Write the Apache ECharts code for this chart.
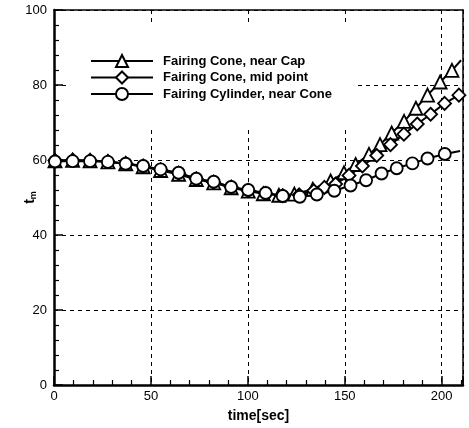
<!DOCTYPE html>
<html>
<head>
<meta charset="utf-8">
<script src="https://cdn.jsdelivr.net/npm/echarts@6/dist/echarts.min.js"></script>
<style>
html,body{margin:0;padding:0;background:#fff;}
#chart{width:469px;height:428px;}
</style>
</head>
<body>
<div id="chart"></div>
<script>
// ---- data ----
const seriesNames = ['Fairing Cone, near Cap', 'Fairing Cone, mid point', 'Fairing Cylinder, near Cone'];

const coneCapTime = [0.5, 9.6, 18.6, 27.8, 37, 46, 55, 64.3, 73.4, 82.4, 91.4, 100.2, 108, 116, 124, 133.5, 142.7, 149.6, 155.6, 162.5, 168.2, 174.2, 180.6, 186.7, 192.7, 199.2, 205.3, 210];
const coneCapTemp = [59.8, 59.9, 59.8, 59.5, 59.0, 58.2, 57.2, 56.2, 54.8, 53.9, 52.6, 51.7, 51.0, 50.6, 50.9, 52.2, 54.4, 56.6, 58.8, 61.5, 64.1, 67.2, 70.3, 73.8, 77.3, 80.8, 83.9, 86.6];

const coneMidTime = [0.5, 9.6, 18.6, 27.8, 37, 46, 55, 64.3, 73.4, 82.4, 91.4, 100.2, 109.2, 118, 126.5, 134, 139.5, 145.3, 152.2, 159.1, 166.5, 173.6, 180.5, 187.4, 194.3, 201.5, 208.9];
const coneMidTemp = [59.9, 60.0, 59.9, 59.6, 59.1, 58.4, 57.4, 56.5, 55.0, 54.1, 52.8, 51.9, 51.1, 50.5, 50.7, 51.8, 52.7, 53.6, 55.9, 58.4, 61.2, 64.1, 66.9, 69.6, 72.2, 75.1, 77.3];

const cylTime = [0.5, 9.6, 18.6, 27.8, 37, 46, 55, 64.3, 73.4, 82.4, 91.4, 100.2, 109.2, 118, 126.8, 135.6, 144.6, 153, 161, 169, 176.8, 184.9, 192.7, 201.6, 209.5];
const cylTemp = [59.6, 59.7, 59.7, 59.5, 59.0, 58.4, 57.5, 56.6, 55.0, 54.2, 52.8, 52.0, 51.2, 50.4, 50.2, 50.8, 51.8, 53.2, 54.6, 56.4, 57.8, 59.1, 60.4, 61.6, 62.4];

const xTicks = [0, 50, 100, 150, 200];
const yTicks = [0, 20, 40, 60, 80, 100];
// ---------------------------------------

function pairs(xs, ys, lastNoSymbol) {
  return xs.map(function (x, i) {
    if (lastNoSymbol && i === xs.length - 1) {
      return { value: [x, ys[i]], symbol: 'none' };
    }
    return [x, ys[i]];
  });
}

const FONT = 'Liberation Sans, Arial, sans-serif';
const chart = echarts.init(document.getElementById('chart'), null, { renderer: 'canvas' });

function mkSeries(name, data, symbol, size) {
  return {
    name: name,
    type: 'line',
    data: data,
    symbol: symbol,
    symbolSize: size,
    showAllSymbol: true,
    lineStyle: { color: '#000', width: 2 },
    itemStyle: { color: '#fff', borderColor: '#000', borderWidth: 1.8 },
    emphasis: { disabled: true },
    z: 2
  };
}

const tickStyle = { show: true, inside: true, length: 9, lineStyle: { color: '#000', width: 1.5 } };
const minorStyle = { show: true, splitNumber: 5, length: 5, lineStyle: { color: '#000', width: 1.2 } };

const option = {
  animation: false,
  backgroundColor: '#fff',
  grid: { left: 54, right: 6, top: 10, bottom: 39 },
  legend: {
    orient: 'vertical',
    left: 90,
    top: 54,
    padding: 0,
    itemWidth: 62,
    itemHeight: 15,
    itemGap: 2.5,
    data: seriesNames,
    textStyle: { fontFamily: FONT, fontSize: 13, fontWeight: 'bold', color: '#000', padding: [0, 0, 0, 5] },
    z: 5
  },
  graphic: [{
    type: 'rect',
    shape: { x: 66, y: 22, width: 289, height: 106 },
    style: { fill: '#fff' },
    z: 3,
    silent: true
  }],
  xAxis: [{
    type: 'value',
    min: xTicks[0],
    max: 211,
    interval: 50,
    axisLine: { show: true, lineStyle: { color: '#000', width: 2.5 } },
    axisTick: tickStyle,
    minorTick: minorStyle,
    splitLine: { show: true, lineStyle: { color: '#000', type: [4, 4], width: 1 } },
    axisLabel: { showMaxLabel: false, color: '#000', fontSize: 13, margin: 5, fontFamily: FONT },
    name: 'time[sec]',
    nameLocation: 'middle',
    nameGap: 24,
    nameMoveOverlap: false,
    nameTextStyle: { color: '#000', fontSize: 14, fontWeight: 'bold', fontFamily: FONT }
  }, {
    type: 'value',
    position: 'top',
    min: 0,
    max: 211,
    axisLine: { show: true, onZero: false, lineStyle: { color: '#000', width: 1.5 } },
    axisTick: { show: false },
    axisLabel: { show: false },
    splitLine: { show: false }
  }],
  yAxis: [{
    type: 'value',
    min: yTicks[0],
    max: yTicks[yTicks.length - 1],
    interval: 20,
    axisLine: { show: true, lineStyle: { color: '#000', width: 2.5 } },
    axisTick: tickStyle,
    minorTick: minorStyle,
    splitLine: { show: true, lineStyle: { color: '#000', type: [4, 4], width: 1 } },
    axisLabel: { color: '#000', fontSize: 13, margin: 7, fontFamily: FONT },
    name: '{t|t}{s|m}',
    nameLocation: 'middle',
    nameGap: 16,
    nameRotate: 90,
    nameMoveOverlap: false,
    nameTextStyle: {
      rich: {
        t: { fontSize: 14, fontWeight: 'bold', fontFamily: FONT, color: '#000' },
        s: { fontSize: 9, fontWeight: 'bold', fontFamily: FONT, color: '#000', padding: [6, 0, 0, 0] }
      }
    }
  }, {
    type: 'value',
    position: 'right',
    min: 0,
    max: 100,
    axisLine: { show: true, onZero: false, lineStyle: { color: '#000', width: 1.5 } },
    axisTick: { show: false },
    axisLabel: { show: false },
    splitLine: { show: false }
  }],
  series: [
    mkSeries(seriesNames[0], pairs(coneCapTime, coneCapTemp, true), 'triangle', 13),
    mkSeries(seriesNames[1], pairs(coneMidTime, coneMidTemp, false), 'diamond', 13),
    mkSeries(seriesNames[2], pairs(cylTime, cylTemp, true), 'circle', 12)
  ]
};
chart.setOption(option);
</script>
</body>
</html>
